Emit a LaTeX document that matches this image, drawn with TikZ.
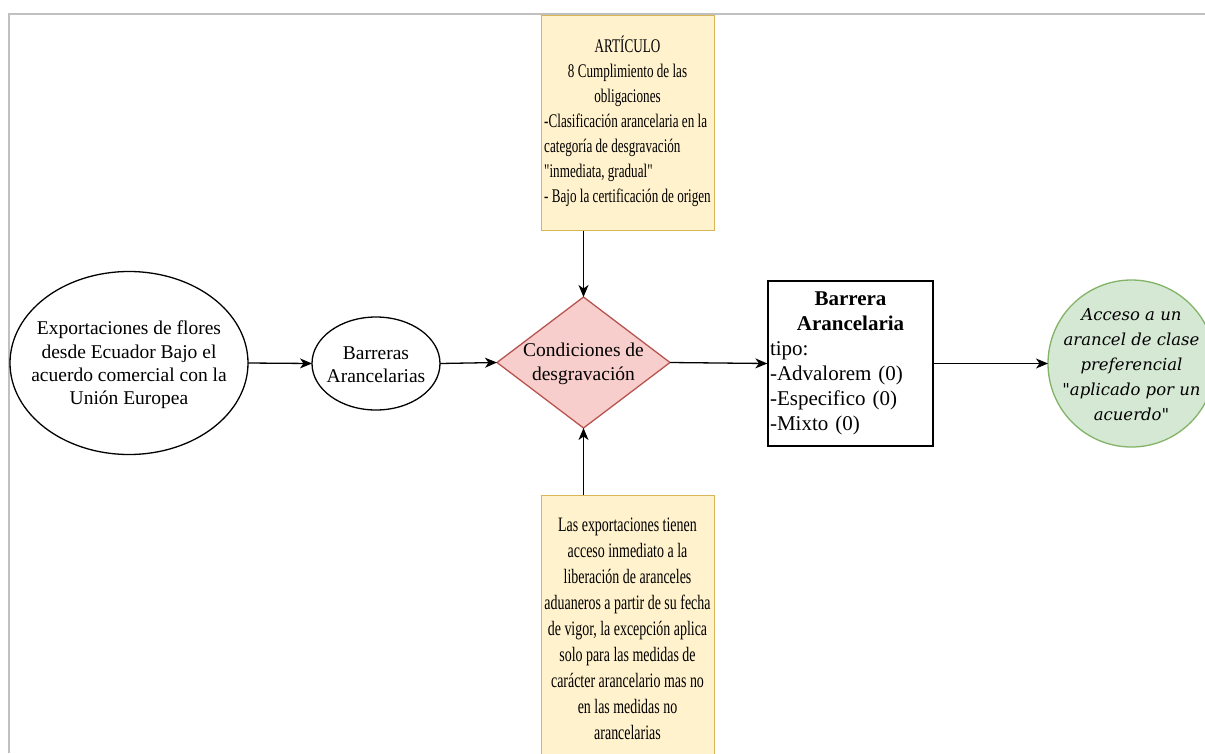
\documentclass[tikz,border=0pt]{standalone}
\usepackage{fontspec}
\usepackage{graphicx}
\setmainfont{Liberation Serif}
\newfontfamily\circfont{DejaVu Serif}
\usetikzlibrary{shapes.geometric,arrows.meta}
\definecolor{yfill}{HTML}{FFF2CC}
\definecolor{ydraw}{HTML}{D6B656}
\definecolor{rfill}{HTML}{F8CECC}
\definecolor{rdraw}{HTML}{B85450}
\definecolor{gfill}{HTML}{D5E8D4}
\definecolor{gdraw}{HTML}{82B366}
\definecolor{framegray}{HTML}{C0C0C0}
\newcommand\narrowtext[1]{\scalebox{0.68}[1]{#1}}
\begin{document}
\begin{tikzpicture}[x=1pt,y=-1pt,
  conn/.style={line width=1.3pt,-{Stealth[length=12pt,width=10pt,inset=3.5pt]}},
  yellowbox/.style={draw=ydraw,fill=yfill,line width=1pt,minimum width=173pt,inner sep=0pt},
  shapeonly/.style={line width=1.3pt,inner sep=0pt,outer sep=0pt},
  mainlbl/.style={font=\fontsize{19.5}{23.3}\selectfont,align=center,inner sep=0pt}
]
\useasboundingbox (0,0) rectangle (1205,753);
\clip (0,0) rectangle (1205,753);
\draw[framegray,line width=2pt] (9,753) -- (9,14) -- (1205,14);

% top box
\node[yellowbox,minimum height=215pt] (top) at (627.5,122.5)
 {\narrowtext{\fontsize{19.3}{25}\selectfont\begin{tabular}{@{}l@{}}
   \multicolumn{1}{@{}c@{}}{ART\'ICULO}\\
   \multicolumn{1}{@{}c@{}}{8 Cumplimiento de las}\\
   \multicolumn{1}{@{}c@{}}{obligaciones}\\
   -Clasificación arancelaria en la\\
   categoría de desgravación\\
   \textquotedbl inmediata, gradual\textquotedbl\\
   - Bajo la certificación de origen
  \end{tabular}}};

% bottom box
\node[yellowbox,minimum height=270pt] (bot) at (627.5,630)
 {\narrowtext{\fontsize{20.5}{26}\selectfont\begin{tabular}{@{}c@{}}
   Las exportaciones tienen\\ acceso inmediato a la\\ liberación de aranceles\\
   aduaneros a partir de su fecha\\ de vigor, la excepción aplica\\
   solo para las medidas de\\ carácter arancelario mas no\\ en las medidas no\\ arancelarias
  \end{tabular}}};

% big ellipse
\node[shapeonly,ellipse,draw,minimum width=238pt,minimum height=183pt] (big) at (129,363) {};
\node[mainlbl] (bigtxt) at (129,365) {Exportaciones de flores\\ desde Ecuador Bajo el\\ acuerdo comercial con la\\ Unión Europea};

% small ellipse
\node[shapeonly,ellipse,draw,minimum width=128pt,minimum height=93pt] (small) at (376,363.5) {};
\node[mainlbl] (smalltxt) at (376,365) {Barreras\\ Arancelarias};

% diamond
\node[shapeonly,diamond,draw=rdraw,fill=rfill,minimum width=173pt,minimum height=131pt] (dia) at (583.5,362.5) {};
\node[mainlbl,font=\fontsize{19.5}{24}\selectfont] (diatxt) at (583.5,364) {Condiciones de\\ desgravación};

% rectangle
\node[draw,line width=1.3pt,minimum height=165pt,text width=161pt,inner xsep=2pt,inner ysep=0pt,align=left,font=\fontsize{21}{25}\selectfont] (rect) at (850.5,363.5)
 {{\centering\bfseries Barrera\\ Arancelaria\par}tipo:\\ -Advalorem (0)\\ -Especifico (0)\\ -Mixto (0)};

% circle
\node[shapeonly,circle,draw=gdraw,fill=gfill,minimum size=167pt] (circ) at (1131.5,363.5) {};
\node[inner sep=0pt,align=center,font=\circfont\itshape\fontsize{16.5}{25}\selectfont] (circtxt) at (1131.5,365)
 {Acceso a un\\ arancel de clase\\ preferencial\\ "aplicado por un\\ acuerdo"};

% connectors
\draw[conn] (big.east) -- (small.west);
\draw[conn] (small.east) -- (dia.west);
\draw[conn] (dia.east) -- (rect.west);
\draw[conn] (rect.east) -- (circ.west);
\draw[conn] (dia.north |- top.south) -- (dia.north);
\draw[conn] (dia.south |- bot.north) -- (dia.south);
\end{tikzpicture}
\end{document}
